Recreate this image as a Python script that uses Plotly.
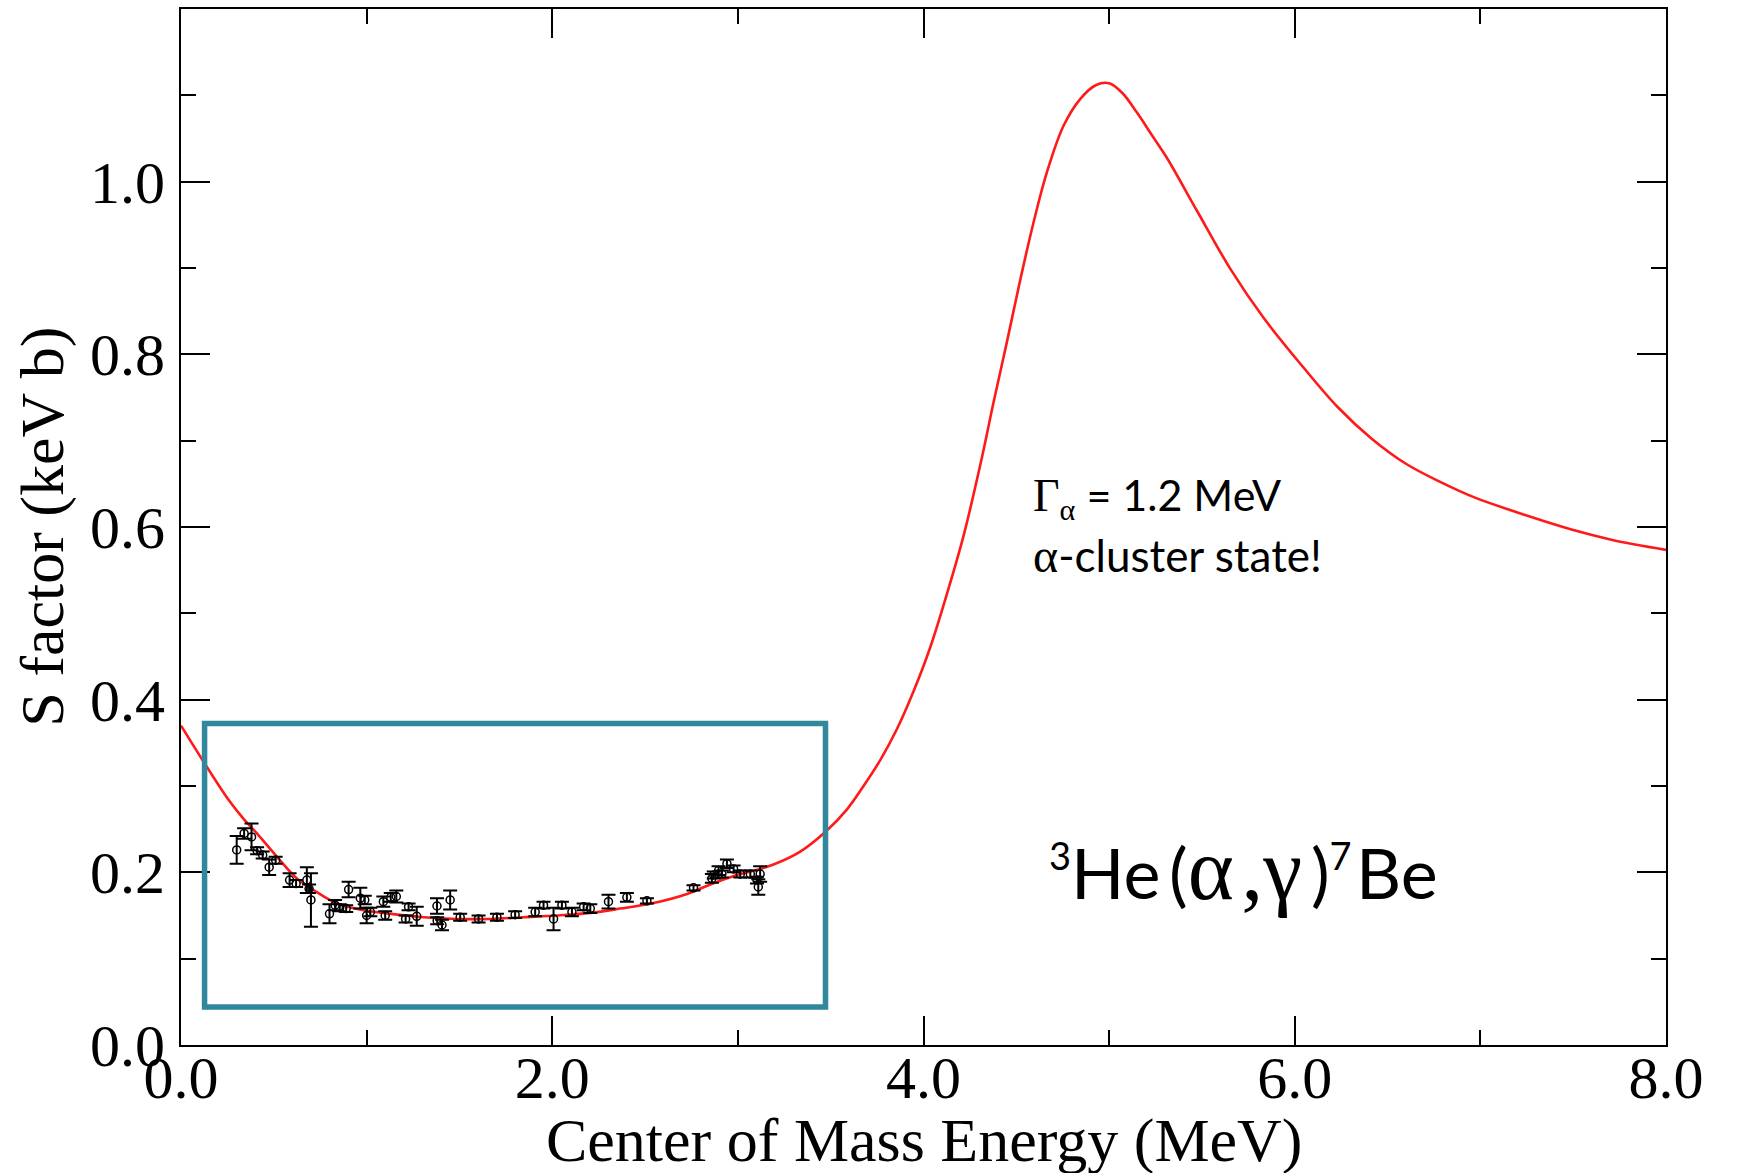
import plotly.graph_objects as go

# ---- model curve (S factor) ----
curve_e = [0.0, 0.256, 0.337, 0.409, 0.517, 0.624, 0.732, 0.84, 0.983, 1.127, 1.307, 1.486,
           1.666, 1.845, 2.025, 2.205, 2.366, 2.546, 2.726, 2.851, 2.995, 3.12, 3.192, 3.336,
           3.472, 3.588, 3.677, 3.767, 3.857, 3.947, 4.037, 4.127, 4.216, 4.306, 4.378, 4.45,
           4.522, 4.593, 4.665, 4.755, 4.845, 4.93, 5.0, 5.07, 5.15, 5.23, 5.31, 5.474, 5.653,
           5.833, 6.046, 6.231, 6.416, 6.601, 6.786, 6.971, 7.156, 7.341, 7.526, 7.711, 8.0]
curve_s = [0.370, 0.284, 0.262, 0.245, 0.218, 0.193, 0.177, 0.164, 0.156, 0.152, 0.148, 0.146,
           0.146, 0.148, 0.150, 0.153, 0.158, 0.1645, 0.175, 0.186, 0.197, 0.204, 0.209, 0.224,
           0.247, 0.273, 0.300, 0.330, 0.366, 0.410, 0.461, 0.523, 0.590, 0.672, 0.745, 0.815,
           0.887, 0.953, 1.011, 1.065, 1.096, 1.112, 1.114, 1.103, 1.080, 1.054, 1.028, 0.966,
           0.899, 0.842, 0.785, 0.739, 0.702, 0.673, 0.652, 0.634, 0.620, 0.607, 0.595, 0.585,
           0.5735]

# ---- measured data ----
data_e = [0.30, 0.34, 0.38, 0.41, 0.44, 0.475, 0.51, 0.585, 0.62, 0.678, 0.69, 0.70, 0.80,
          0.83, 0.855, 0.89, 0.903, 0.966, 0.99, 1.00, 1.02, 1.09, 1.10, 1.13, 1.16, 1.21,
          1.226, 1.27, 1.379, 1.38, 1.406, 1.45, 1.504, 1.603, 1.702, 1.80, 1.908, 1.953,
          2.007, 2.052, 2.106, 2.169, 2.205, 2.303, 2.402, 2.51, 2.761, 2.86, 2.87, 2.896,
          2.914, 2.941, 2.977, 3.013, 3.067, 3.103, 3.12, 3.11]
data_s = [0.226, 0.245, 0.241, 0.225, 0.220, 0.206, 0.214, 0.191, 0.187, 0.191, 0.181, 0.168,
          0.152, 0.162, 0.159, 0.158, 0.180, 0.170, 0.168, 0.150, 0.154, 0.166, 0.150, 0.171,
          0.172, 0.146, 0.160, 0.149, 0.161, 0.144, 0.139, 0.168, 0.148, 0.146, 0.148, 0.151,
          0.154, 0.162, 0.146, 0.162, 0.154, 0.160, 0.158, 0.166, 0.171, 0.167, 0.182, 0.193,
          0.197, 0.202, 0.198, 0.210, 0.204, 0.198, 0.198, 0.191, 0.198, 0.183]
data_err = [0.016, 0.006, 0.0155, 0.004, 0.004, 0.009, 0.004, 0.008, 0.004, 0.015, 0.005, 0.031,
            0.011, 0.006, 0.004, 0.004, 0.009, 0.012, 0.005, 0.009, 0.005, 0.006, 0.005, 0.005,
            0.007, 0.004, 0.004, 0.011, 0.009, 0.004, 0.006, 0.011, 0.004, 0.004, 0.004, 0.004,
            0.005, 0.004, 0.013, 0.004, 0.005, 0.004, 0.005, 0.008, 0.005, 0.003, 0.003, 0.005,
            0.004, 0.005, 0.004, 0.005, 0.004, 0.004, 0.004, 0.004, 0.009, 0.009]

# ---- axes ----
x_ticks = [0, 2, 4, 6, 8]
x_ticklabels = ["0.0", "2.0", "4.0", "6.0", "8.0"]
x_minor = [1, 3, 5, 7]
y_ticks = [0.0, 0.2, 0.4, 0.6, 0.8, 1.0]
y_ticklabels = ["0.0", "0.2", "0.4", "0.6", "0.8", "1.0"]
y_minor = [0.1, 0.3, 0.5, 0.7, 0.9, 1.1]

SERIF = "Liberation Serif, Times New Roman, serif"
SANS = "Lato, Open Sans, sans-serif"

fig = go.Figure()

fig.add_trace(go.Scatter(
    x=curve_e, y=curve_s, mode="lines",
    line=dict(color="#FF1A1A", width=2.6, shape="spline", smoothing=1.0),
    hoverinfo="skip", showlegend=False))

fig.add_trace(go.Scatter(
    x=data_e, y=data_s, mode="markers",
    marker=dict(symbol="circle-open", size=8, color="black", line=dict(width=1.5, color="black")),
    error_y=dict(type="data", array=data_err, visible=True, color="black", thickness=2, width=7),
    showlegend=False))

# highlight box
fig.add_shape(type="rect", xref="x", yref="y", x0=0.127, x1=3.472, y0=0.044, y1=0.3725,
              line=dict(color="#31879C", width=5.5))

axis_common = dict(
    showline=True, linecolor="black", linewidth=2, mirror="ticks",
    ticks="inside", ticklen=29, tickwidth=2, tickcolor="black",
    showgrid=False, zeroline=False,
    tickfont=dict(family=SERIF, size=60, color="black"),
)

fig.update_xaxes(range=[0, 8], tickvals=x_ticks, ticktext=x_ticklabels,
                 minor=dict(tickvals=x_minor, ticks="inside", ticklen=15, tickwidth=2, tickcolor="black"),
                 ticklabelstandoff=-21, **axis_common)
fig.update_yaxes(range=[0, 1.2], tickvals=y_ticks, ticktext=y_ticklabels,
                 minor=dict(tickvals=y_minor, ticks="inside", ticklen=15, tickwidth=2, tickcolor="black"),
                 ticklabelstandoff=2, **axis_common)

g = "<span style=\"font-family:'Liberation Serif'\">"
thin = "\u2009"
hair = "\u200a"
annotations = [
    dict(text="Center of Mass Energy (MeV)", xref="paper", yref="paper", x=0.5, y=-0.0917,
         xanchor="center", yanchor="middle", showarrow=False,
         font=dict(family=SERIF, size=62, color="black")),
    dict(text="S factor (keV b)", xref="paper", yref="paper", x=-0.0938, y=0.5,
         xanchor="center", yanchor="middle", textangle=-90, showarrow=False,
         font=dict(family=SERIF, size=62, color="black")),
    dict(text=g + "<span style=\"font-size:46px\">Γ</span><sub>α</sub></span> = 1.2 MeV",
         xref="x", yref="y", x=4.581, y=0.634,
         xanchor="left", yanchor="middle", showarrow=False,
         font=dict(family=SANS, size=43, color="black")),
    dict(text=g + "<span style=\"font-size:48px\">α</span></span>-cluster state!",
         xref="x", yref="y", x=4.581, y=0.567,
         xanchor="left", yanchor="middle", showarrow=False,
         font=dict(family=SANS, size=44, color="black")),
    dict(text="<sup><span style=\"font-size:38px\">3</span></sup>He" + thin + "("
              + "<span style=\"font-family:'Liberation Serif';font-size:88px\">α" + hair + ",γ</span>"
              + thin + ")"
              + "<sup><span style=\"font-size:38px\">7</span></sup>" + hair + "Be",
         xref="x", yref="y", x=4.665, y=0.203,
         xanchor="left", yanchor="middle", showarrow=False,
         font=dict(family=SANS, size=70, color="black")),
]

fig.update_layout(
    width=1739, height=1173,
    margin=dict(l=181, r=73, t=7, b=128),
    paper_bgcolor="white", plot_bgcolor="white",
    annotations=annotations,
)

fig.write_html("out.html")
